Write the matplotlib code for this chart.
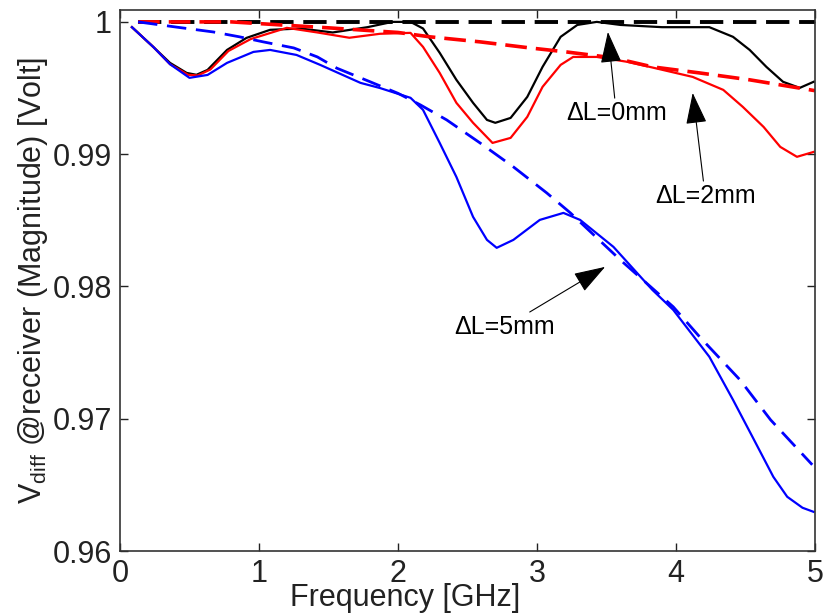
import matplotlib
matplotlib.use("Agg")
import matplotlib.pyplot as plt

plt.rcParams['font.family'] = ['Liberation Sans', 'DejaVu Sans']
plt.rcParams['mathtext.default'] = 'regular'

# data (frequency in GHz, magnitude in Volt)
f_black = [0.086, 0.24, 0.36, 0.48, 0.55, 0.63, 0.77, 0.91, 1.08, 1.3, 1.53, 1.78, 1.96,
           2.09, 2.18, 2.30, 2.42, 2.54, 2.64, 2.70, 2.81, 2.93, 3.04, 3.17, 3.29, 3.43,
           3.6, 3.9, 4.24, 4.41, 4.53, 4.65, 4.77, 4.89, 4.99]
v_black = [0.9996, 0.9981, 0.9969, 0.99614, 0.9960, 0.99637, 0.99788, 0.99879, 0.9994,
           0.9995, 0.9992, 0.9996, 1.0, 1.0, 0.9995, 0.99766, 0.99562, 0.99388, 0.99259,
           0.99237, 0.99274, 0.99433, 0.9966, 0.99887, 0.99977, 1.0, 0.99977, 0.9996,
           0.9996, 0.99887, 0.99788, 0.9966, 0.99547, 0.99501, 0.99547]

f_red = [0.086, 0.24, 0.36, 0.49, 0.56, 0.65, 0.78, 0.94, 1.2, 1.42, 1.65, 1.87, 2.09,
         2.18, 2.30, 2.42, 2.54, 2.68, 2.81, 2.93, 3.04, 3.17, 3.26, 3.43, 3.65, 3.81,
         4.12, 4.34, 4.48, 4.63, 4.75, 4.87, 4.99]
v_red = [0.9996, 0.9981, 0.9968, 0.9960, 0.99595, 0.9964, 0.9978, 0.9987, 0.99955,
         0.9992, 0.9988, 0.9991, 0.99917, 0.99811, 0.99614, 0.99388, 0.99237, 0.99085,
         0.99123, 0.99282, 0.99509, 0.99675, 0.99735, 0.99735, 0.99698, 0.9966, 0.99584,
         0.99486, 0.99358, 0.99206, 0.99055, 0.9898, 0.99017]

f_blue = [0.086, 0.24, 0.36, 0.5, 0.63, 0.77, 0.96, 1.08, 1.27, 1.44, 1.73, 1.87, 2.09,
          2.18, 2.30, 2.42, 2.54, 2.64, 2.71, 2.83, 3.02, 3.19, 3.31, 3.55, 3.83, 3.98,
          4.24, 4.41, 4.55, 4.70, 4.8, 4.91, 4.99]
v_blue = [0.9996, 0.9981, 0.9968, 0.99577, 0.99599, 0.9969, 0.99773, 0.99788, 0.9975,
          0.99675, 0.99539, 0.9950, 0.99426, 0.99335, 0.99085, 0.98828, 0.98526, 0.98352,
          0.98292, 0.98352, 0.98503, 0.98556, 0.98503, 0.98299, 0.97974, 0.97823, 0.97468,
          0.97143, 0.96863, 0.96561, 0.9641, 0.96327, 0.96296]

f_black_ref = [0.13, 5.0]
v_black_ref = [1.0, 1.0]

f_red_ref = [0.13, 0.8, 1.5, 2.0, 2.23, 2.59, 2.95, 3.21, 3.55, 3.83, 4.17, 4.53, 5.0]
v_red_ref = [1.0, 1.0, 0.99955, 0.9992, 0.99887, 0.99849, 0.99803, 0.99773, 0.99728,
             0.9966, 0.99614, 0.99562, 0.9948]

f_blue_ref = [0.13, 0.41, 0.67, 0.86, 1.03, 1.25, 1.42, 1.56, 1.8, 2.0, 2.16, 2.35, 2.59,
              2.83, 3.07, 3.24, 3.6, 3.98, 4.17, 4.46, 4.68, 4.98]
v_blue_ref = [1.0, 0.9996, 0.99924, 0.99887, 0.99849, 0.99803, 0.99735, 0.9965, 0.99547,
              0.9946, 0.99373, 0.99259, 0.99085, 0.98904, 0.98707, 0.98556, 0.9820,
              0.97846, 0.97619, 0.97294, 0.96992, 0.96652]

xticks = [0, 1, 2, 3, 4, 5]
yticks = [0.96, 0.97, 0.98, 0.99, 1.0]
ytick_labels = ['0.96', '0.97', '0.98', '0.99', '1']

fig = plt.figure(figsize=(8.23, 6.16), dpi=100)
ax = fig.add_axes([0.1458, 0.1055, 0.8445, 0.8783])

ax.plot(f_black, v_black, color='black', lw=1.6)
ax.plot(f_red, v_red, color='red', lw=1.6)
ax.plot(f_blue, v_blue, color='blue', lw=1.6)
ax.plot(f_black_ref, v_black_ref, color='black', lw=2.8, dashes=(6, 2.5))
ax.plot(f_red_ref, v_red_ref, color='red', lw=2.6, dashes=(6, 2.5))
ax.plot(f_blue_ref, v_blue_ref, color='blue', lw=2.0, dashes=(7, 3.5))

ax.set_xlim(0, 5)
ax.set_ylim(0.96, 1.0009)
ax.set_xticks(xticks)
ax.set_yticks(yticks)
ax.set_yticklabels(ytick_labels)
ax.tick_params(direction='in', length=6, width=1, top=True, right=True,
               labelsize=22, pad=6, colors='#222222')
for s in ax.spines.values():
    s.set_linewidth(1.2)
    s.set_color('#333333')

fig.text(0.492, 0.029, 'Frequency [GHz]', fontsize=22, ha='center', va='center',
         color='#222222')
ax.set_ylabel('V$_{diff}$ @receiver (Magnitude) [Volt]', fontsize=22, labelpad=2,
              color='#222222')

arrow = dict(arrowstyle='-|>,head_length=0.9,head_width=0.3', color='black', lw=0.8,
             mutation_scale=22, shrinkA=0, shrinkB=0)
ax.annotate('ΔL=0mm', xy=(3.51, 0.99924), xytext=(3.57, 0.99312), fontsize=18,
            ha='center', va='center', arrowprops=arrow)
ax.annotate('ΔL=2mm', xy=(4.12, 0.99463), xytext=(4.21, 0.98685), fontsize=18,
            ha='center', va='center', arrowprops=arrow)
ax.annotate('ΔL=5mm', xy=(3.49, 0.98148), xytext=(2.77, 0.97695), fontsize=18,
            ha='center', va='center', arrowprops=arrow)

fig.savefig('out.png', dpi=100)
